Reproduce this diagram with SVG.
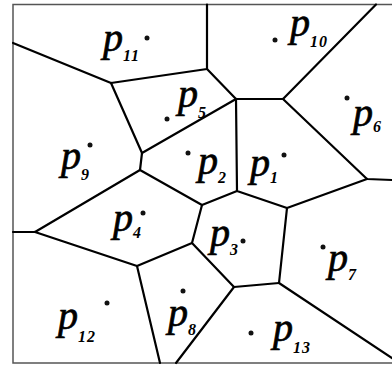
<svg xmlns="http://www.w3.org/2000/svg" width="392" height="365" viewBox="0 0 392 365">
<style>
.edge{fill:none;stroke:#000;stroke-width:2.2;stroke-linejoin:round;stroke-linecap:round}
.frame{fill:none;stroke:#555;stroke-width:1.5}
.dot{fill:#111}
.lbl{font-family:"Liberation Serif",serif;font-style:italic;fill:#000}
.p{font-size:40px;stroke:#000;stroke-width:0.7}
.s{font-size:16px;font-weight:bold;letter-spacing:1px}
</style>
<rect width="392" height="365" fill="#fff"/>
<rect class="frame" x="13" y="4.5" width="395" height="358.5"/>
<g id="connectors">
<path class="edge" d="M13,43 L111,83 L207,69 L207,4.5"/>
<path class="edge" d="M207,69 L236,99 L283,99 L376,4.5"/>
<path class="edge" d="M283,99 L367,179 L392,180"/>
<path class="edge" d="M367,179 L287,208 L279,283 L392,358"/>
<path class="edge" d="M236,99 L237,191 L287,208"/>
<path class="edge" d="M237,191 L202,205 L192,243 L234,287 L279,283"/>
<path class="edge" d="M234,287 L176,363"/>
<path class="edge" d="M111,83 L142,153 L236,99"/>
<path class="edge" d="M142,153 L140,170 L202,205"/>
<path class="edge" d="M140,170 L35,232 L13,232"/>
<path class="edge" d="M35,232 L137,266 L192,243"/>
<path class="edge" d="M137,266 L160,363"/>
</g>
<g id="p1"><circle class="dot" cx="284" cy="155" r="2.5"/><text class="lbl"><tspan class="p" x="250" y="176">p</tspan><tspan class="s" x="270" y="183">1</tspan></text></g>
<g id="p2"><circle class="dot" cx="188" cy="153" r="2.5"/><text class="lbl"><tspan class="p" x="198" y="174">p</tspan><tspan class="s" x="218" y="183">2</tspan></text></g>
<g id="p3"><circle class="dot" cx="243" cy="241" r="2.5"/><text class="lbl"><tspan class="p" x="210" y="246">p</tspan><tspan class="s" x="230" y="255">3</tspan></text></g>
<g id="p4"><circle class="dot" cx="143" cy="213" r="2.5"/><text class="lbl"><tspan class="p" x="113" y="231">p</tspan><tspan class="s" x="133" y="238">4</tspan></text></g>
<g id="p5"><circle class="dot" cx="167" cy="119" r="2.5"/><text class="lbl"><tspan class="p" x="178" y="107">p</tspan><tspan class="s" x="198" y="118">5</tspan></text></g>
<g id="p6"><circle class="dot" cx="347" cy="98" r="2.5"/><text class="lbl"><tspan class="p" x="353" y="126">p</tspan><tspan class="s" x="373" y="132">6</tspan></text></g>
<g id="p7"><circle class="dot" cx="323" cy="247" r="2.5"/><text class="lbl"><tspan class="p" x="328" y="271">p</tspan><tspan class="s" x="348" y="280">7</tspan></text></g>
<g id="p8"><circle class="dot" cx="183" cy="291" r="2.5"/><text class="lbl"><tspan class="p" x="168" y="326">p</tspan><tspan class="s" x="188" y="335">8</tspan></text></g>
<g id="p9"><circle class="dot" cx="90" cy="145" r="2.5"/><text class="lbl"><tspan class="p" x="61" y="169">p</tspan><tspan class="s" x="81" y="180">9</tspan></text></g>
<g id="p10"><circle class="dot" cx="275" cy="40" r="2.5"/><text class="lbl"><tspan class="p" x="290" y="36">p</tspan><tspan class="s" x="310" y="47">10</tspan></text></g>
<g id="p11"><circle class="dot" cx="147" cy="38" r="2.5"/><text class="lbl"><tspan class="p" x="103" y="51">p</tspan><tspan class="s" x="123" y="61">11</tspan></text></g>
<g id="p12"><circle class="dot" cx="107" cy="303" r="2.5"/><text class="lbl"><tspan class="p" x="58" y="329">p</tspan><tspan class="s" x="78" y="342">12</tspan></text></g>
<g id="p13"><circle class="dot" cx="251" cy="333" r="2.5"/><text class="lbl"><tspan class="p" x="273" y="341">p</tspan><tspan class="s" x="293" y="353">13</tspan></text></g>
</svg>
